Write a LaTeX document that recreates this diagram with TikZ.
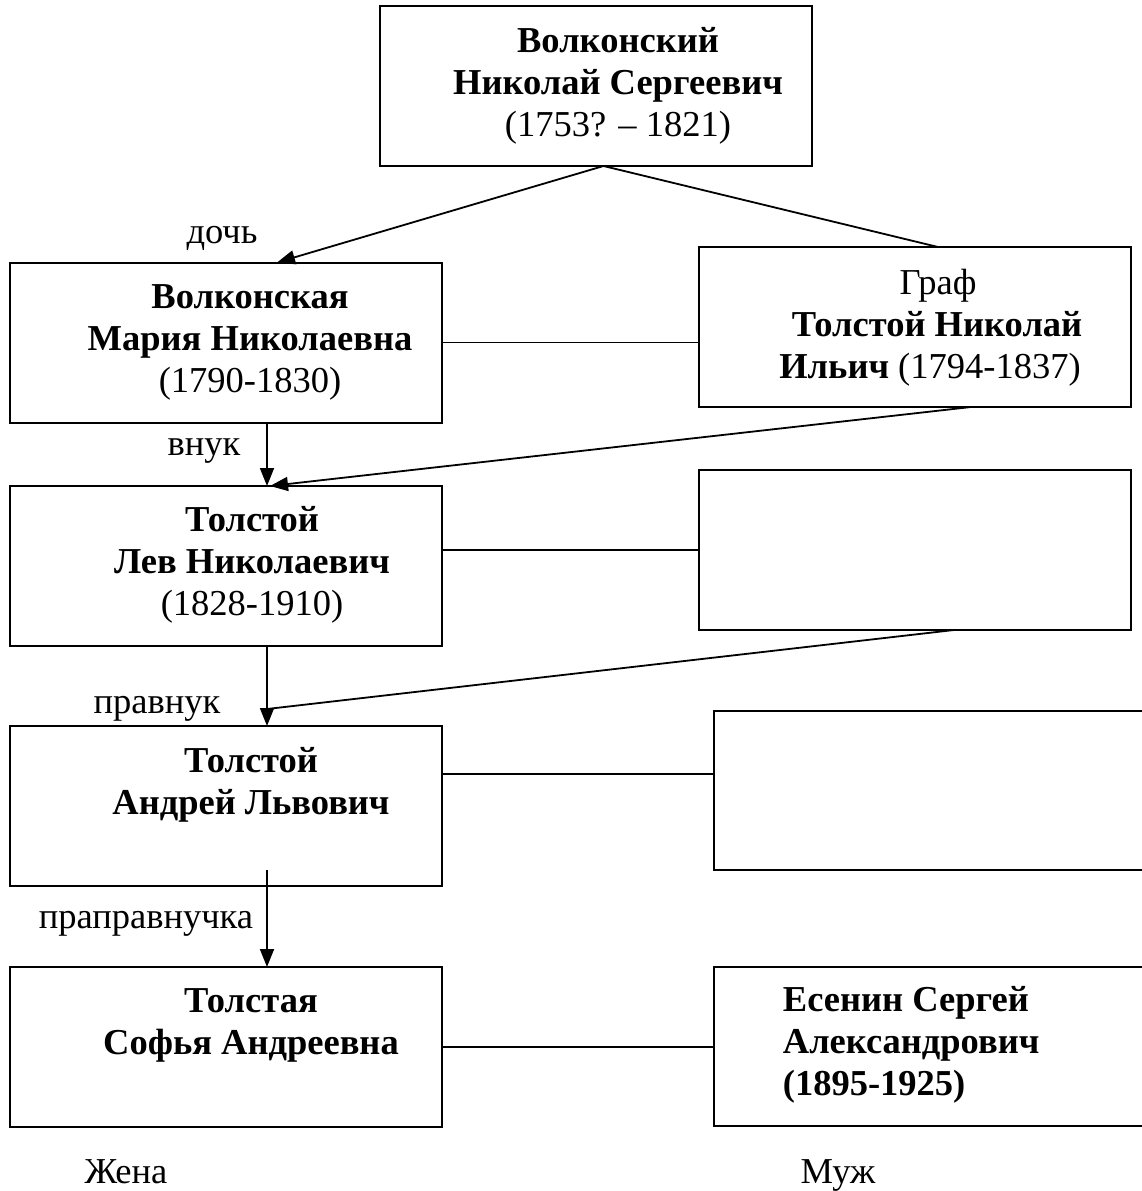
\documentclass[tikz,border=0pt]{standalone}
\usepackage{fontspec}
\setmainfont{Liberation Serif}
\usetikzlibrary{arrows.meta,calc}

\tikzset{
  box/.style={draw, line width=2pt, minimum width=432pt, minimum height=160pt, inner sep=0pt, outer sep=0pt},
  txt/.style={font=\fontsize{36.5}{42}\selectfont, inner sep=0pt, align=center},
  lbl/.style={font=\fontsize{36.5}{42}\selectfont, inner sep=0pt, anchor=base},
  arr/.style={-{Triangle[length=18pt,width=14pt]}},
}

\begin{document}
\begin{tikzpicture}[x=1pt,y=-1pt,line width=1.8pt]
  \useasboundingbox (0,0) rectangle (1142,1191);
  % boxes
  \node[box] (volk) at (595.5,86) {};
  \node[box] (maria) at (226,342.5) {};
  \node[box] (graf) at (915,327) {};
  \node[box] (lev) at (226,566) {};
  \node[box] (wife1) at (915,550) {};
  \node[box] (andrei) at (226,806) {};
  \node[box, minimum width=446pt, minimum height=159pt] (wife2) at (937,790.5) {};
  \node[box] (sofya) at (226,1047) {};
  \node[box, minimum width=446pt, minimum height=159pt] (esenin) at (937,1046.5) {};
  % names
  \node[txt] (volktxt) at (618,86) {\textbf{Волконский}\\\textbf{Николай Сергеевич}\\(1753? – 1821)};
  \node[txt] (mariatxt) at (250,342) {\textbf{Волконская}\\\textbf{Мария Николаевна}\\(1790-1830)};
  \node[txt] (graftxt) at (930,328) {\hspace*{16pt}Граф\\\hspace*{14pt}\textbf{Толстой Николай}\\\textbf{Ильич} (1794-1837)};
  \node[txt] (levtxt) at (252,565) {\textbf{Толстой}\\\textbf{Лев Николаевич}\\(1828-1910)};
  \node[txt] (andreitxt) at (251,784.5) {\textbf{Толстой}\\\textbf{Андрей Львович}};
  \node[txt] (sofyatxt) at (251,1025) {\textbf{Толстая}\\\textbf{Софья Андреевна}};
  \node[txt, align=left, anchor=west] (esenintxt) at (782,1045) {\textbf{Есенин Сергей}\\\textbf{Александрович}\\\textbf{(1895-1925)}};
  % relations
  \node[lbl] (doch) at (222,243) {дочь};
  \node[lbl] (vnuk) at (204,455) {внук};
  \node[lbl] (pravnuk) at (157,713) {правнук};
  \node[lbl] (prapravnuchka) at (146,928) {праправнучка};
  \node[lbl] (zhena) at (126,1183) {Жена};
  \node[lbl] (muzh) at (838,1183) {Муж};
  % lines
  \draw[arr] ([xshift=8pt]volk.south) -- ([xshift=51pt]maria.north);
  \draw ([xshift=8pt]volk.south) -- ([xshift=23pt]graf.north);
  \draw (maria.east) -- (maria.east -| graf.west);
  \draw[arr] ([xshift=41pt]maria.south) -- ([xshift=41pt]lev.north);
  \draw[arr] ([xshift=56pt]graf.south) -- ([xshift=44pt]lev.north);
  \draw (lev.east |- wife1.west) -- (wife1.west);
  \draw[arr] ([xshift=41pt]lev.south) -- ([xshift=41pt]andrei.north);
  \coordinate (j1) at ([xshift=41pt,yshift=17pt]andrei.north);
  \draw ([xshift=39pt]wife1.south) -- (j1);
  \draw ([yshift=32pt]andrei.east) -- ([yshift=32pt]andrei.east -| wife2.west);
  \draw[arr] ([xshift=41pt,yshift=16pt]andrei.south) -- ([xshift=41pt]sofya.north);
  \draw (sofya.east) -- (sofya.east -| esenin.west);
\end{tikzpicture}
\end{document}
